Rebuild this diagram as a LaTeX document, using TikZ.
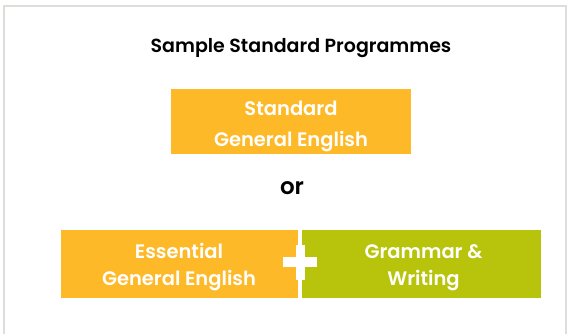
\documentclass[tikz,border=0pt]{standalone}
\usepackage{fontspec}
\setmainfont{Poppins}[BoldFont={Poppins SemiBold}]
\definecolor{progorange}{RGB}{253,185,39}
\definecolor{proggreen}{RGB}{184,196,12}
\definecolor{framegray}{RGB}{221,221,217}
\tikzset{
  progbox/.style={inner sep=0pt,text=white,align=center,font=\fontsize{19.5}{27}\selectfont\bfseries},
}
\begin{document}
\begin{tikzpicture}[x=1pt,y=-1pt]
      \useasboundingbox (0,0) rectangle (568,334);
      \fill[white] (0,0) rectangle (568,334);
      \draw[framegray,line width=2pt] (4,340) -- (4,6.5) -- (566,6.5) -- (566,340);
      \node[font=\fontsize{19}{21}\selectfont\bfseries] (title) at (301,48.5) {Sample Standard Programmes};
      \fill[progorange] (171,89) rectangle (411,154);
      \node[progbox,font=\fontsize{19.5}{31}\selectfont\bfseries] (standard) at (291,126) {Standard\\General English};
      \node[font=\fontsize{23}{25}\selectfont\bfseries] (or) at (292,188) {or};
      \fill[progorange] (61,230) rectangle (298,298);
      \fill[proggreen] (302,230) rectangle (541,298);
      \node[progbox] (essential) at (179,267.5) {Essential\\General English};
      \node[progbox] (grammar) at (423.5,267.5) {Grammar \&\\Writing};
      \fill[white] (283,257) rectangle (317,267);
      \fill[white] (295.5,245) rectangle (305,280);
    \end{tikzpicture}
\end{document}
